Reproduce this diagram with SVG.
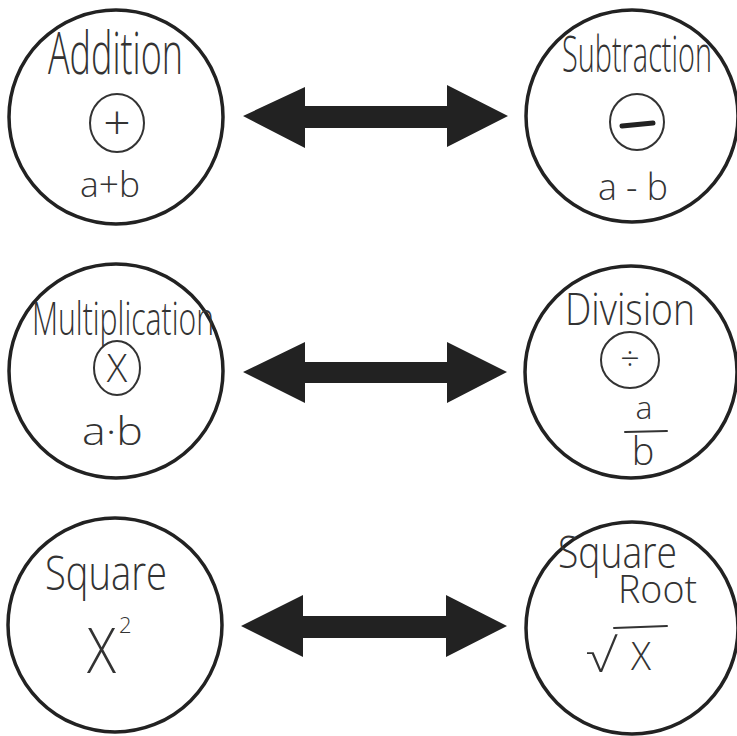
<svg xmlns="http://www.w3.org/2000/svg" width="737" height="736" viewBox="0 0 737 736">
<style>
.ring{fill:none;stroke:#222;stroke-width:3.5}
.sym{fill:none;stroke:#333;stroke-width:2}
.t{font-family:"Open Sans","Liberation Sans",sans-serif;font-weight:300;fill:#333}
.arrow{fill:#222}
.pen{stroke:#333;stroke-width:2;fill:none;stroke-linecap:round}
</style>
<rect width="737" height="736" fill="#fff"/>
<g id="connectors">
<path class="arrow" d="M243,116 L305,87 L305,106 L447,106 L447,85 L508,116 L447,147 L447,128 L305,128 L305,148 Z"/>
<path class="arrow" d="M243,372 L305,342 L305,362 L447,362 L447,342 L507,372 L447,403 L447,383 L305,383 L305,403 Z"/>
<path class="arrow" d="M241,626 L303,595 L303,616 L446,616 L446,595 L507,626 L446,657 L446,638 L303,638 L303,657 Z"/>
</g>
<g id="addition">
<circle class="ring" cx="116" cy="117" r="107"/>
<text class="t" x="48" y="74" font-size="58" textLength="135" lengthAdjust="spacingAndGlyphs">Addition</text>
<ellipse class="sym" cx="117" cy="123" rx="27" ry="29"/>
<text class="t" x="117" y="140" font-size="48" text-anchor="middle">+</text>
<text class="t" x="80" y="197" font-size="34" textLength="60" lengthAdjust="spacingAndGlyphs">a+b</text>
</g>
<g id="subtraction">
<circle class="ring" cx="632" cy="116" r="106"/>
<text class="t" x="562" y="72" font-size="50" textLength="150" lengthAdjust="spacingAndGlyphs">Subtraction</text>
<ellipse class="sym" cx="637" cy="122" rx="27" ry="28"/>
<line x1="622" y1="126" x2="653" y2="123" stroke="#222" stroke-width="5" stroke-linecap="round"/>
<text class="t" x="598" y="200" font-size="36" textLength="70" lengthAdjust="spacingAndGlyphs">a - b</text>
</g>
<g id="multiplication">
<circle class="ring" cx="116" cy="371" r="107"/>
<text class="t" x="32" y="335" font-size="46" textLength="182" lengthAdjust="spacingAndGlyphs">Multiplication</text>
<ellipse class="sym" cx="117" cy="368" rx="23" ry="27"/>
<text class="t" x="117" y="382" font-size="38" text-anchor="middle">X</text>
<text class="t" x="82" y="445" font-size="38" textLength="61" lengthAdjust="spacingAndGlyphs">a·b</text>
</g>
<g id="division">
<circle class="ring" cx="631" cy="372" r="106"/>
<text class="t" x="565" y="325" font-size="44" textLength="130" lengthAdjust="spacingAndGlyphs">Division</text>
<ellipse class="sym" cx="630" cy="360" rx="29" ry="28"/>
<text class="t" x="630" y="371" font-size="34" text-anchor="middle">÷</text>
<text class="t" x="644" y="419" font-size="32" text-anchor="middle">a</text>
<line class="pen" x1="625" y1="432" x2="667" y2="431"/>
<text class="t" x="643" y="465" font-size="38" text-anchor="middle">b</text>
</g>
<g id="square">
<circle class="ring" cx="115" cy="625" r="107"/>
<text class="t" x="45" y="590" font-size="48" textLength="122" lengthAdjust="spacingAndGlyphs">Square</text>
<text class="t" x="87" y="673" font-size="62" textLength="29" lengthAdjust="spacingAndGlyphs">X</text>
<text class="t" x="119" y="633" font-size="22">2</text>
</g>
<g id="square-root">
<circle class="ring" cx="632" cy="628" r="106"/>
<text class="t" x="558" y="568" font-size="44" textLength="119" lengthAdjust="spacingAndGlyphs">Square</text>
<text class="t" x="618" y="603" font-size="38" textLength="79" lengthAdjust="spacingAndGlyphs">Root</text>
<text class="t" x="586" y="672" font-size="46" textLength="30" lengthAdjust="spacingAndGlyphs">√</text>
<line class="pen" x1="614" y1="628" x2="667" y2="626"/>
<text class="t" x="631" y="670" font-size="38" textLength="20" lengthAdjust="spacingAndGlyphs">X</text>
</g>
</svg>
